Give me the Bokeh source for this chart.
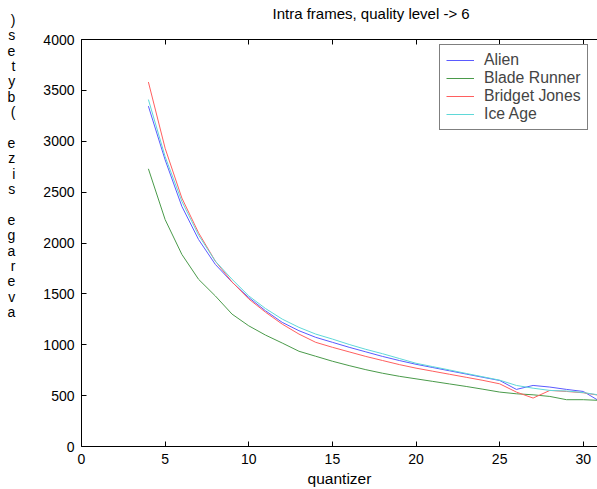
from bokeh.plotting import figure
from bokeh.models import LinearAxis, Legend, LegendItem, Range1d, FixedTicker
from bokeh.embed import file_html
from bokeh.resources import INLINE

# ---- data ----
quantizer = list(range(4, 32))
alien = [3345, 2817, 2360, 2034, 1790, 1615, 1464, 1334, 1220, 1138, 1073, 1024,
         975, 930, 885, 845, 808, 776, 744, 712, 680, 649, 561, 600, 584, 561, 541, 443]
blade_runner = [2729, 2230, 1888, 1643, 1480, 1301, 1186, 1095, 1017, 936, 887, 838,
                795, 755, 720, 690, 665, 640, 615, 590, 563, 535, 518, 508, 492, 460, 460, 453]
bridget_jones = [3582, 2931, 2442, 2100, 1822, 1617, 1450, 1320, 1203, 1105, 1024, 975,
                 930, 885, 845, 805, 770, 740, 710, 680, 650, 616, 535, 476, 551, 541, 528, 502]
ice_age = [3410, 2849, 2409, 2077, 1822, 1643, 1480, 1356, 1252, 1171, 1105, 1056,
           1003, 955, 912, 865, 818, 785, 752, 718, 685, 652, 600, 573, 551, 545, 530, 505]
series_names = ["Alien", "Blade Runner", "Bridget Jones", "Ice Age"]
series_colors = ["#5a5aff", "#4a9a4a", "#ff5f5f", "#5fd8d8"]
x_ticks = [0, 5, 10, 15, 20, 25, 30]
y_ticks = [0, 500, 1000, 1500, 2000, 2500, 3000, 3500, 4000]
title_text = "Intra frames, quality level -> 6"
x_label = "quantizer"
y_label = "average size (bytes)"

FONT = "Liberation Sans"
NBSP = "\u00a0"

p = figure(width=597, height=489, output_backend="svg", toolbar_location=None,
           x_range=Range1d(0, 30.85), y_range=Range1d(0, 4000),
           min_border_left=81, min_border_right=0, min_border_top=39, min_border_bottom=41)
p.outline_line_color = None
p.xgrid.visible = False
p.ygrid.visible = False
p.background_fill_color = "white"
p.border_fill_color = "white"

for ax in (p.xaxis[0], p.yaxis[0]):
    ax.major_tick_in = 5
    ax.major_tick_out = 0
    ax.minor_tick_line_color = None
    ax.axis_line_color = "black"
    ax.major_tick_line_color = "black"
    ax.major_label_text_font = FONT
    ax.major_label_text_font_size = "14px"
    ax.major_label_text_color = "black"
    ax.axis_label_text_font = FONT
    ax.axis_label_text_font_style = "normal"
    ax.axis_label_text_color = "black"

p.xaxis[0].ticker = FixedTicker(ticks=x_ticks)
p.yaxis[0].ticker = FixedTicker(ticks=y_ticks)
p.xaxis[0].axis_label = x_label
p.xaxis[0].axis_label_text_font_size = "15.5px"
p.xaxis[0].major_label_standoff = 7
p.xaxis[0].axis_label_standoff = 3
p.yaxis[0].major_label_standoff = 7

# y label: characters stacked upright, read bottom to top
stack = [c if c != " " else NBSP for c in reversed(y_label)] + [NBSP] * 10
p.yaxis[0].axis_label = "\n".join(stack)
p.yaxis[0].axis_label_text_font_size = "14px"
p.yaxis[0].axis_label_text_line_height = 0.962
p.yaxis[0].axis_label_standoff = 25
try:
    p.yaxis[0].axis_label_orientation = "horizontal"
except Exception:
    pass

top = LinearAxis(ticker=FixedTicker(ticks=x_ticks), major_tick_in=5, major_tick_out=0,
                 minor_tick_line_color=None, major_label_text_font_size="0px",
                 major_label_standoff=0, axis_line_color="black")
p.add_layout(top, "above")

p.title.text = title_text + "\n" + NBSP
p.title.align = "left"
p.title.offset = 191
p.title.standoff = 2
p.title.text_font = FONT
p.title.text_font_size = "15px"
p.title.text_font_style = "normal"
p.title.text_color = "black"

renderers = []
for name, ys, col in zip(series_names, [alien, blade_runner, bridget_jones, ice_age], series_colors):
    r = p.line(quantizer, ys, line_color=col, line_width=1)
    renderers.append((name, r))

legend = Legend(items=[LegendItem(label=n, renderers=[r]) for n, r in renderers],
                location=(358, 316), border_line_color="black", border_line_width=1,
                background_fill_color="white", background_fill_alpha=1,
                label_text_font=FONT, label_text_font_size="15.8px",
                glyph_width=28, glyph_height=16, label_height=16, spacing=0,
                padding=6, margin=0, label_standoff=10)
p.add_layout(legend, "center")

open("out.html", "w").write(file_html(p, INLINE))
